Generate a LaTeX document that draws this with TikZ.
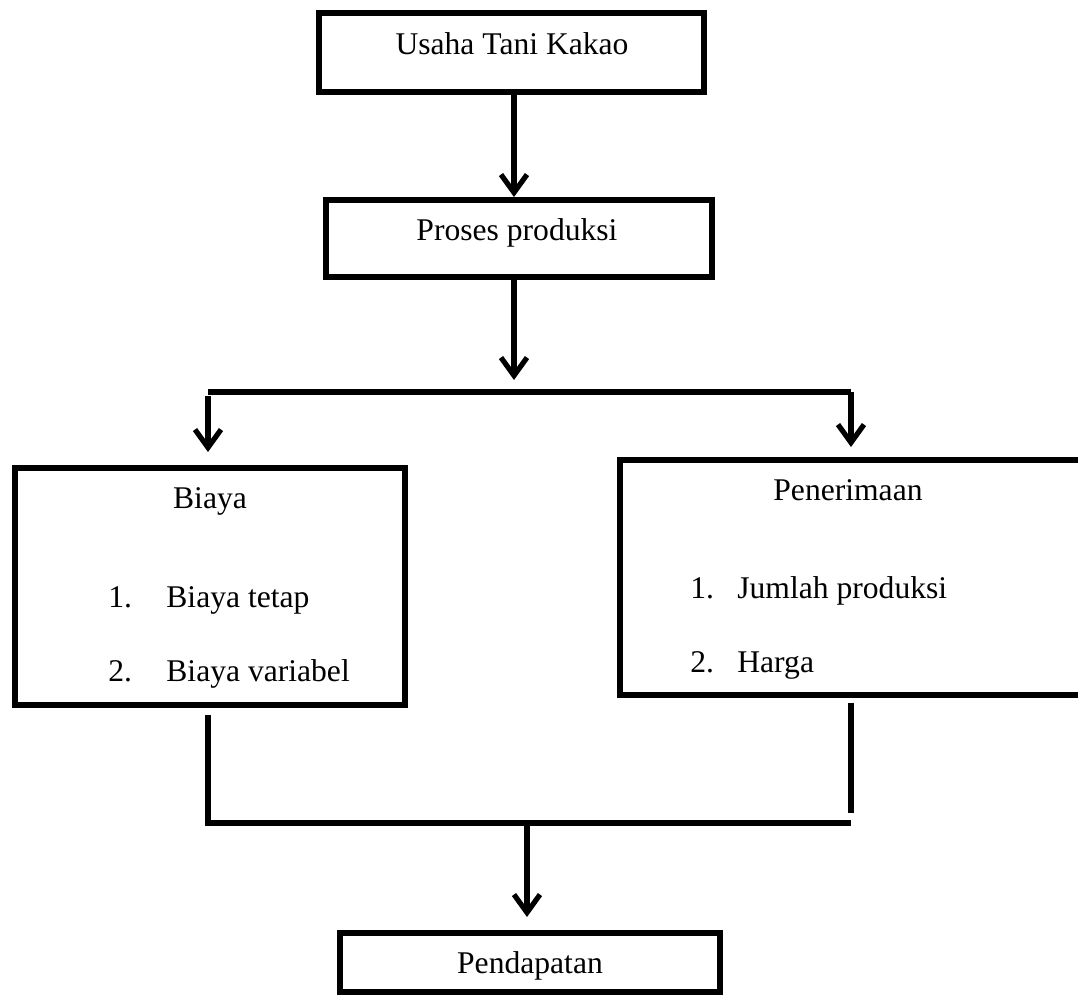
\documentclass[tikz,border=0pt]{standalone}
\usepackage{fontspec}
\setmainfont{Liberation Serif}
\usetikzlibrary{arrows.meta}

\tikzset{
  box/.style={draw, line width=3pt, inner sep=0pt},
  txt/.style={inner sep=0pt, anchor=base},
  itm/.style={inner sep=0pt, anchor=base west},
  line/.style={line width=3pt},
  arr/.style={line width=2.6pt, -{Straight Barb[length=9pt,width=13pt]}}
}

\begin{document}
\begin{tikzpicture}[x=0.5pt, y=-0.5pt, font=\fontsize{15.8pt}{19pt}\selectfont]
\useasboundingbox (0,0) rectangle (1078,996);

% boxes
\node[box, minimum width=192.5pt, minimum height=39.5pt] (usaha) at (511.5,52.5) {};
\node[box, minimum width=193pt, minimum height=38.5pt] (proses) at (519,238.5) {};
\node[box, minimum width=195pt, minimum height=118.5pt] (biaya) at (210,586.5) {};
\node[box, minimum width=231pt, minimum height=117.5pt] (pener) at (851,577.5) {};
\node[box, minimum width=190pt, minimum height=29.5pt] (pend) at (530,962.5) {};

% texts
\node[txt] (usahaT) at (512,54) {Usaha Tani Kakao};
\node[txt] (prosesT) at (517,240) {Proses produksi};
\node[txt] (biayaT) at (210,508) {Biaya};
\node[txt] (penerT) at (848,500) {Penerimaan};
\node[txt] (pendT) at (530,973) {Pendapatan};
\foreach \i/\t/\y in {1/Biaya tetap/607, 2/Biaya variabel/681}
{
    \node[itm] (bnum\i) at (108,\y) {\i.};
    \node[itm] (bitem\i) at (166,\y) {\t};
}
\foreach \i/\t/\y in {1/Jumlah produksi/598, 2/Harga/672}
{
    \node[itm] (pnum\i) at (690,\y) {\i.};
    \node[itm] (pitem\i) at (737,\y) {\t};
}

% connectors
\coordinate (topL) at (208,392);
\coordinate (topM) at (514,392);
\coordinate (topR) at (851,392);
\coordinate (botL) at (208,823);
\coordinate (botM) at (527,823);
\coordinate (botR) at (851,823);

\draw[arr] (usaha.south -| topM) -- (proses.north -| topM);
\draw[arr] (proses.south -| topM) -- ([yshift=6pt]topM);
\draw[line] (topL) -- (topR);
\draw[arr] ([yshift=-2pt]topL) -- ([yshift=6.5pt]biaya.north -| topL);
\draw[arr] (topR) -- ([yshift=5pt]pener.north -| topR);

\draw[line] ([yshift=-3.5pt]biaya.south -| botL) -- (botL) -- (botR);
\draw[line] ([yshift=-2.5pt]pener.south -| botR) -- ([yshift=5pt]botR);
\draw[arr] (botM) -- ([yshift=6.5pt]pend.north -| botM);
\end{tikzpicture}
\end{document}
